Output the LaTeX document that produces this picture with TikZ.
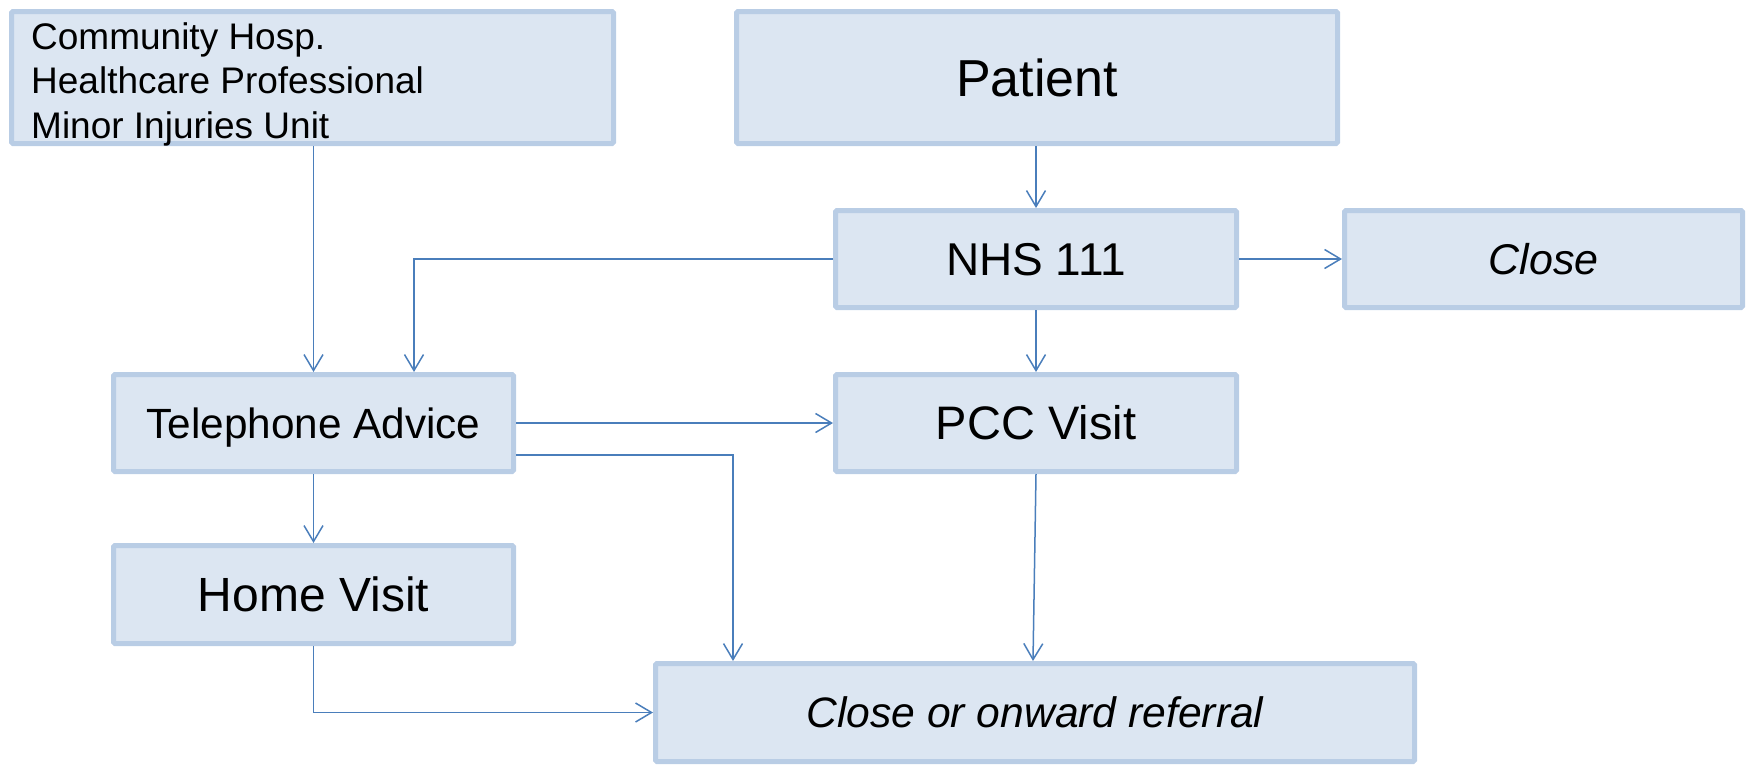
\documentclass[tikz,border=0pt]{standalone}
\usepackage{fontspec}
\setmainfont{Liberation Sans}
\usetikzlibrary{arrows.meta}
\definecolor{boxfill}{HTML}{DCE6F2}
\definecolor{boxline}{HTML}{B9CDE5}
\definecolor{arrowblue}{HTML}{4A7EBB}
\tikzset{
  box/.style={draw=boxline, fill=boxfill, line width=5pt, rounded corners=1.5pt, inner sep=0pt, text depth=0pt},
  arr/.style={draw=arrowblue, line width=1.5pt, -{Straight Barb[length=16pt,width=19pt,line width=1.5pt]}}
}
\begin{document}
\begin{tikzpicture}[x=1pt,y=-1pt]
\useasboundingbox (0,0) rectangle (1756,764);
% boxes
\node[box, minimum width=602pt, minimum height=132pt] (comm) at (312.5,77.5) {};
\node[anchor=north west, align=left, inner sep=0pt, font=\fontsize{37}{44.5}\selectfont] (commtext) at (31,22) {Community Hosp.\\Healthcare Professional\\Minor Injuries Unit};
\node[box, minimum width=601pt, minimum height=132pt, text height=37.4pt, font=\fontsize{52}{60}\selectfont] (patient) at (1037,77.5) {Patient};
\node[box, minimum width=401pt, minimum height=97pt, text height=33.1pt, font=\fontsize{46}{52}\selectfont] (nhs) at (1036,259) {NHS 111};
\node[box, minimum width=398pt, minimum height=97pt, text height=31pt, font=\fontsize{43}{50}\selectfont\itshape] (close) at (1543.5,259) {Close};
\node[box, minimum width=400pt, minimum height=97pt, text height=30.5pt, font=\fontsize{42.3}{50}\selectfont] (tel) at (313.5,423) {Telephone Advice};
\node[box, minimum width=401pt, minimum height=97pt, text height=33.8pt, font=\fontsize{47}{54}\selectfont] (pcc) at (1036,423) {PCC Visit};
\node[box, minimum width=400pt, minimum height=98pt, text height=34.6pt, font=\fontsize{48}{54}\selectfont] (home) at (313.5,594.5) {Home Visit};
\node[box, minimum width=759pt, minimum height=98pt, text height=30.7pt, font=\fontsize{42.6}{50}\selectfont\itshape] (onward) at (1035,712.5) {Close or onward referral};
% connectors
\draw[arr] (tel.north |- comm.south) -- (tel.north);
\draw[arr] (nhs.north |- patient.south) -- (nhs.north);
\draw[arr] (nhs.west) -| ([xshift=100.5pt]tel.north);
\draw[arr] (nhs.east) -- (close.west);
\draw[arr] (nhs.south) -- (pcc.north);
\draw[arr] (tel.east) -- (pcc.west);
\draw[arr] ([yshift=-32pt]tel.east) -| ([xshift=-302pt]onward.north);
\draw[arr] (tel.south) -- (home.north);
\draw[arr] (pcc.south) -- ([xshift=-2pt]onward.north);
\draw[arr] (home.south) |- (onward.west);
\end{tikzpicture}
\end{document}
